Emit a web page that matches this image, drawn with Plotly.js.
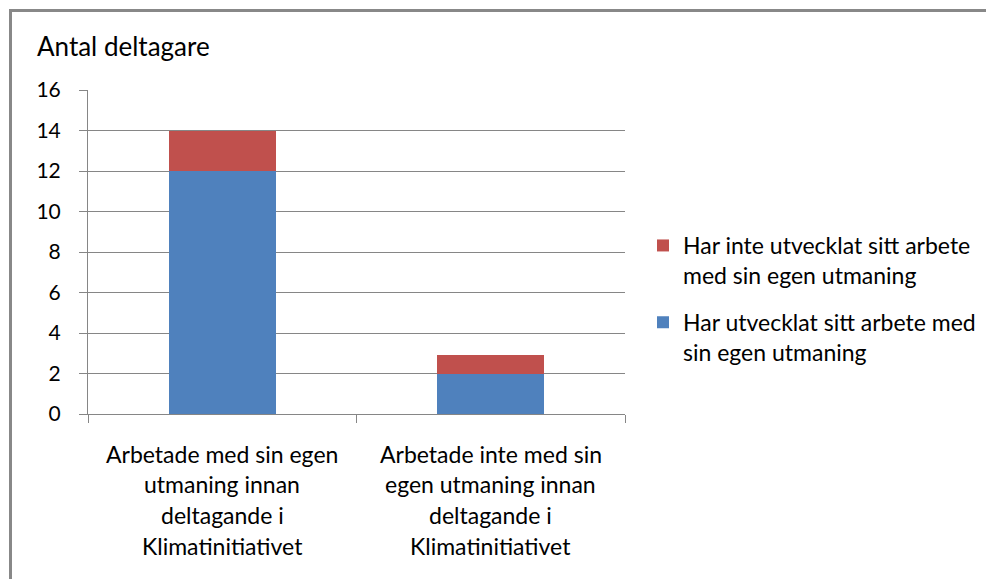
<!DOCTYPE html>
<html>
<head>
<meta charset="utf-8">
<script src="https://cdn.plot.ly/plotly-3.0.1.min.js"></script>
<style>
  html, body { margin: 0; padding: 0; background: #fff; }
  #wrap { position: relative; width: 986px; height: 579px; overflow: hidden; }
  #chart { position: absolute; left: 0; top: 0; width: 986px; height: 579px; }
  #frame { position: absolute; left: 9px; top: 9px; width: 990px; height: 600px;
           border-left: 3px solid #888888; border-top: 3px solid #888888; pointer-events: none; }
</style>
</head>
<body>
<div id="wrap">
  <div id="chart"></div>
  <div id="frame"></div>
</div>
<script>
// ---- data ----
const categories = [
  "Arbetade med sin egen utmaning innan deltagande i Klimatinitiativet",
  "Arbetade inte med sin egen utmaning innan deltagande i Klimatinitiativet"
];
const categoryLines = [
  ["Arbetade med sin egen", "utmaning innan", "deltagande i", "Klimatinitiativet"],
  ["Arbetade inte med sin", "egen utmaning innan", "deltagande i", "Klimatinitiativet"]
];
const seriesDevelopedName = "Har utvecklat sitt arbete med<br>sin egen utmaning";
const seriesNotDevelopedName = "Har inte utvecklat sitt arbete<br>med sin egen utmaning";
const developed = [12, 2];
const notDeveloped = [2, 0.9];
const yTicks = [0, 2, 4, 6, 8, 10, 12, 14, 16];
const chartTitle = "Antal deltagare";

const FONT = "Lato, 'Open Sans', sans-serif";

const traces = [
  { type: "bar", name: seriesDevelopedName, x: categories, y: developed,
    legendgroup: "a", legendrank: 2,
    marker: { color: "#4F81BD" }, hoverinfo: "y" },
  { type: "bar", name: seriesNotDevelopedName, x: categories, y: notDeveloped,
    legendgroup: "b", legendrank: 1,
    marker: { color: "#C0504D" }, hoverinfo: "y" }
];

// category labels, one annotation per line (bottom of plot = 414px)
const lineY = [454, 484, 515, 546];
const annotations = [];
categories.forEach((c, i) => {
  categoryLines[i].forEach((ln, j) => {
    annotations.push({
      x: c, xref: "x", y: 0, yref: "paper",
      yshift: -(lineY[j] - 414), yanchor: "middle", xanchor: "center",
      text: ln, showarrow: false,
      font: { family: FONT, size: 23, color: "#000" }
    });
  });
});

const layout = {
  width: 986, height: 579,
  margin: { l: 88, r: 361, t: 90, b: 165, pad: 0, autoexpand: false },
  paper_bgcolor: "#ffffff", plot_bgcolor: "#ffffff",
  barmode: "stack", bargap: 0.6,
  showlegend: true,
  title: {
    text: chartTitle, xref: "container", yref: "container",
    x: 37 / 986, xanchor: "left", y: 1 - 47 / 579, yanchor: "middle",
    font: { family: FONT, size: 26, color: "#000" }
  },
  xaxis: {
    type: "category", showticklabels: false, tickson: "boundaries",
    ticks: "outside", ticklen: 8, tickcolor: "#868686", tickwidth: 1,
    showline: true, linecolor: "#868686", linewidth: 1,
    showgrid: false, zeroline: false, fixedrange: true
  },
  yaxis: {
    range: [0, 16], tickvals: yTicks, ticktext: yTicks.map(String),
    ticks: "outside", ticklen: 8, tickcolor: "#868686", tickwidth: 1,
    ticklabelstandoff: 14,
    showline: true, linecolor: "#868686", linewidth: 1,
    showgrid: true, gridcolor: "#868686", gridwidth: 1,
    zeroline: false, fixedrange: true,
    tickfont: { family: FONT, size: 21, color: "#000" }
  },
  legend: {
    x: (643 - 88) / 537, xanchor: "left", y: 1 - (224 - 90) / 324, yanchor: "top",
    traceorder: "grouped", valign: "top", tracegroupgap: 14,
    font: { family: FONT, size: 23, color: "#000" },
    bgcolor: "rgba(0,0,0,0)"
  },
  annotations: annotations,
  font: { family: FONT }
};

Plotly.newPlot("chart", traces, layout, { displayModeBar: false, staticPlot: true });
</script>
</body>
</html>
